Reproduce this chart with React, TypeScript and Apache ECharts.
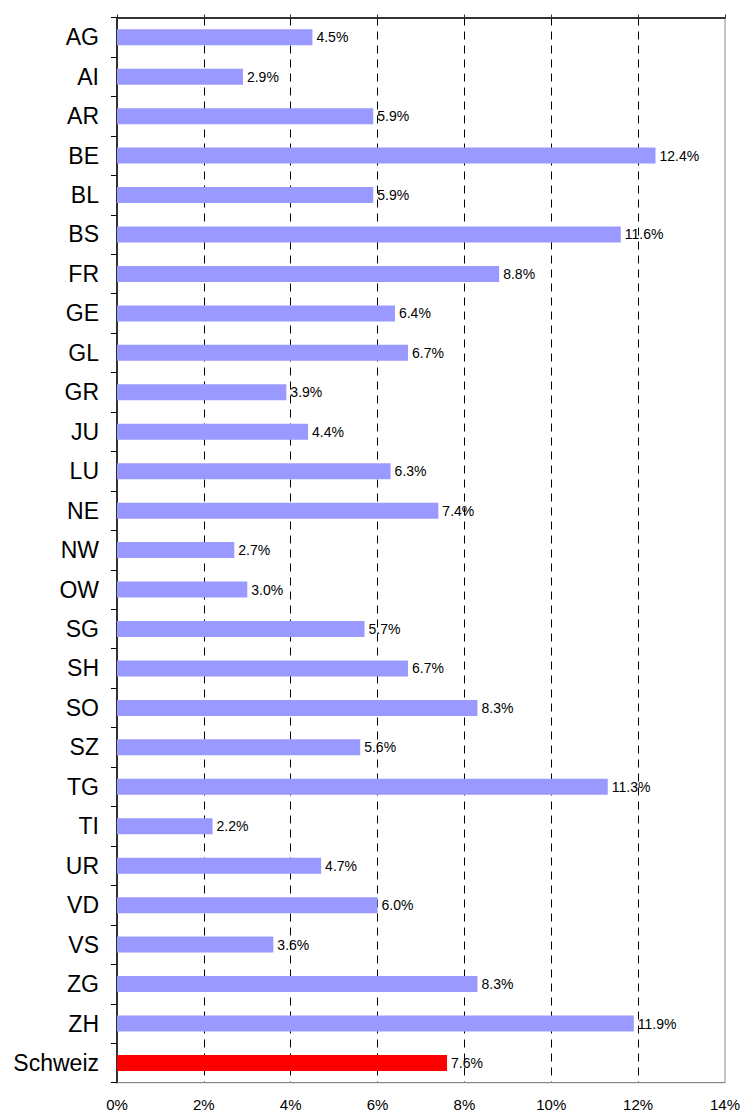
import React, { useEffect, useRef } from "react";
import * as echarts from "echarts";

const categories = ["AG","AI","AR","BE","BL","BS","FR","GE","GL","GR","JU","LU","NE","NW","OW","SG","SH","SO","SZ","TG","TI","UR","VD","VS","ZG","ZH","Schweiz"];
const values = [4.5,2.9,5.9,12.4,5.9,11.6,8.8,6.4,6.7,3.9,4.4,6.3,7.4,2.7,3.0,5.7,6.7,8.3,5.6,11.3,2.2,4.7,6.0,3.6,8.3,11.9,7.6];
const highlight = "Schweiz";

export default function App() {
  const ref = useRef<HTMLDivElement>(null);
  useEffect(() => {
    if (!ref.current) return;
    const chart = echarts.init(ref.current, null, { renderer: "svg" });
    const font = "Arial, 'Liberation Sans', sans-serif";
    chart.setOption({
      animation: false,
      grid: { left: 117, right: 18, top: 17.5, bottom: 30.3, show: true, borderColor: "#888", borderWidth: 1, backgroundColor: "transparent" },
      xAxis: [
        {
          type: "value", min: 0, max: 14, interval: 2, position: "bottom",
          axisLine: { show: true, lineStyle: { color: "#888", width: 1 } },
          axisTick: { show: false },
          axisLabel: { formatter: (v: number) => v + "%", fontSize: 15, color: "#000", fontFamily: font, margin: 14 },
          splitLine: { show: true, showMinLine: false, showMaxLine: false, lineStyle: { color: "#000", type: [8, 6], width: 1 } },
        },
        {
          type: "value", min: 0, max: 14, interval: 2, position: "top",
          axisLine: { show: true, lineStyle: { color: "#333", width: 2 } },
          axisTick: { show: true, length: 3, lineStyle: { color: "#333" } },
          axisLabel: { show: false },
          splitLine: { show: false },
        },
      ],
      yAxis: {
        type: "category", data: categories, inverse: true,
        axisLine: { show: true, lineStyle: { color: "#000", width: 1.5 } },
        axisTick: { show: true, length: 6, lineStyle: { color: "#000" } },
        axisLabel: { fontSize: 23, color: "#000", fontFamily: font, margin: 18 },
      },
      series: [
        {
          type: "bar", xAxisIndex: 0,
          data: categories.map((c, i) => ({
            value: values[i],
            itemStyle: { color: c === highlight ? "#FF0000" : "#9999FF" },
          })),
          barWidth: 16,
          label: {
            show: true, position: "right", distance: 4,
            formatter: (p: any) => p.value.toFixed(1) + "%",
            fontSize: 14, color: "#000", fontFamily: font,
          },
        },
      ],
    });
    return () => chart.dispose();
  }, []);
  return <div ref={ref} style={{ position: "fixed", left: 0, top: 0, width: 743, height: 1113, background: "#fff" }} />;
}
